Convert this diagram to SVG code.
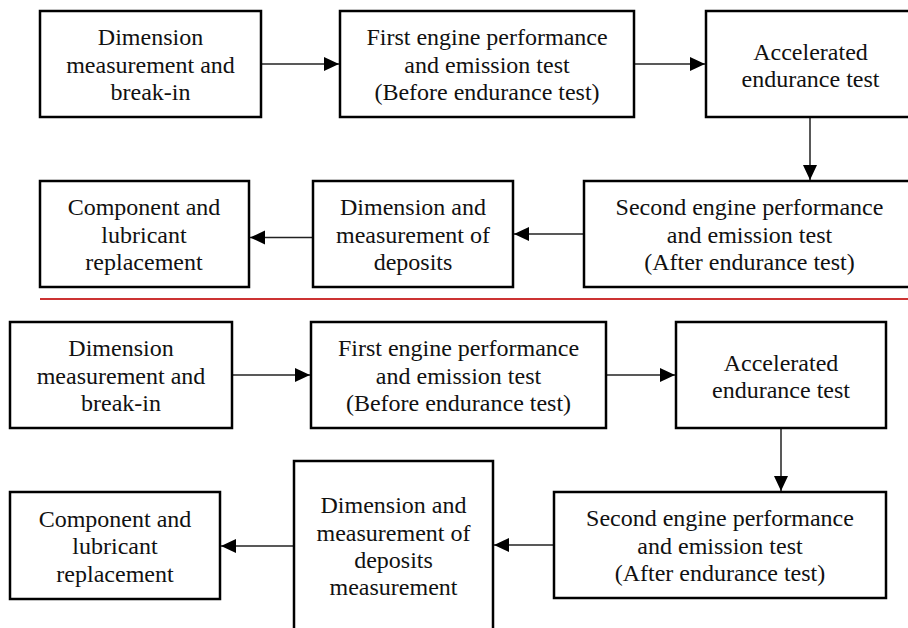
<svg xmlns="http://www.w3.org/2000/svg" width="908" height="628" viewBox="0 0 908 628">
<defs>
<style>
.box{fill:#fff;stroke:#000;stroke-width:2.5}
.t{font-family:"Liberation Serif","Times New Roman",serif;font-size:24px;fill:#111;text-anchor:middle}
.c{stroke:#222;stroke-width:1.5;fill:none}
</style>
<marker id="ah" markerUnits="userSpaceOnUse" markerWidth="16" markerHeight="16" viewBox="0 0 16 16" refX="15" refY="8" orient="auto">
<path d="M0,1 L15,8 L0,15 Z" fill="#000"/>
</marker>
</defs>
<rect width="908" height="628" fill="#fff"/>
<line x1="40" y1="299" x2="908" y2="299" stroke="#cc3333" stroke-width="2"/>
<g id="connectors">
<line class="c" x1="261" y1="64" x2="339" y2="64" marker-end="url(#ah)"/>
<line class="c" x1="634" y1="64" x2="705" y2="64" marker-end="url(#ah)"/>
<line class="c" x1="810" y1="117" x2="810" y2="180" marker-end="url(#ah)"/>
<line class="c" x1="584" y1="234" x2="514" y2="234" marker-end="url(#ah)"/>
<line class="c" x1="313" y1="237.5" x2="250" y2="237.5" marker-end="url(#ah)"/>
<line class="c" x1="232" y1="375" x2="310" y2="375" marker-end="url(#ah)"/>
<line class="c" x1="606" y1="375" x2="675" y2="375" marker-end="url(#ah)"/>
<line class="c" x1="781" y1="428" x2="781" y2="491" marker-end="url(#ah)"/>
<line class="c" x1="554" y1="545" x2="494" y2="545" marker-end="url(#ah)"/>
<line class="c" x1="294" y1="546" x2="221" y2="546" marker-end="url(#ah)"/>
</g>
<g id="n1"><rect class="box" x="40" y="11" width="221" height="106"/>
<text class="t" x="150.5" y="45">Dimension</text><text class="t" x="150.5" y="72.5">measurement and</text><text class="t" x="150.5" y="100">break-in</text></g>
<g id="n2"><rect class="box" x="340" y="11" width="294" height="106"/>
<text class="t" x="487" y="45">First engine performance</text><text class="t" x="487" y="72.5">and emission test</text><text class="t" x="487" y="100">(Before endurance test)</text></g>
<g id="n3"><rect class="box" x="706" y="11" width="209" height="106"/>
<text class="t" x="810.5" y="59.5">Accelerated</text><text class="t" x="810.5" y="87">endurance test</text></g>
<g id="n4"><rect class="box" x="584" y="181" width="331" height="106"/>
<text class="t" x="749.5" y="215">Second engine performance</text><text class="t" x="749.5" y="242.5">and emission test</text><text class="t" x="749.5" y="270">(After endurance test)</text></g>
<g id="n5"><rect class="box" x="313" y="181" width="200" height="106"/>
<text class="t" x="413" y="215">Dimension and</text><text class="t" x="413" y="242.5">measurement of</text><text class="t" x="413" y="270">deposits</text></g>
<g id="n6"><rect class="box" x="40" y="181" width="209" height="106"/>
<text class="t" x="144" y="215">Component and</text><text class="t" x="144" y="242.5">lubricant</text><text class="t" x="144" y="270">replacement</text></g>
<g id="n7"><rect class="box" x="10" y="322" width="222" height="106"/>
<text class="t" x="121" y="356">Dimension</text><text class="t" x="121" y="383.5">measurement and</text><text class="t" x="121" y="411">break-in</text></g>
<g id="n8"><rect class="box" x="311" y="322" width="295" height="106"/>
<text class="t" x="458.5" y="356">First engine performance</text><text class="t" x="458.5" y="383.5">and emission test</text><text class="t" x="458.5" y="411">(Before endurance test)</text></g>
<g id="n9"><rect class="box" x="676" y="322" width="210" height="106"/>
<text class="t" x="781" y="370.5">Accelerated</text><text class="t" x="781" y="398">endurance test</text></g>
<g id="n10"><rect class="box" x="554" y="492" width="332" height="106"/>
<text class="t" x="720" y="526">Second engine performance</text><text class="t" x="720" y="553.5">and emission test</text><text class="t" x="720" y="581">(After endurance test)</text></g>
<g id="n11"><rect class="box" x="294" y="461" width="199" height="175"/>
<text class="t" x="393.5" y="513">Dimension and</text><text class="t" x="393.5" y="540.5">measurement of</text><text class="t" x="393.5" y="567.5">deposits</text><text class="t" x="393.5" y="595">measurement</text></g>
<g id="n12"><rect class="box" x="10" y="492" width="210" height="107"/>
<text class="t" x="115" y="526.5">Component and</text><text class="t" x="115" y="554">lubricant</text><text class="t" x="115" y="581.5">replacement</text></g>
</svg>
